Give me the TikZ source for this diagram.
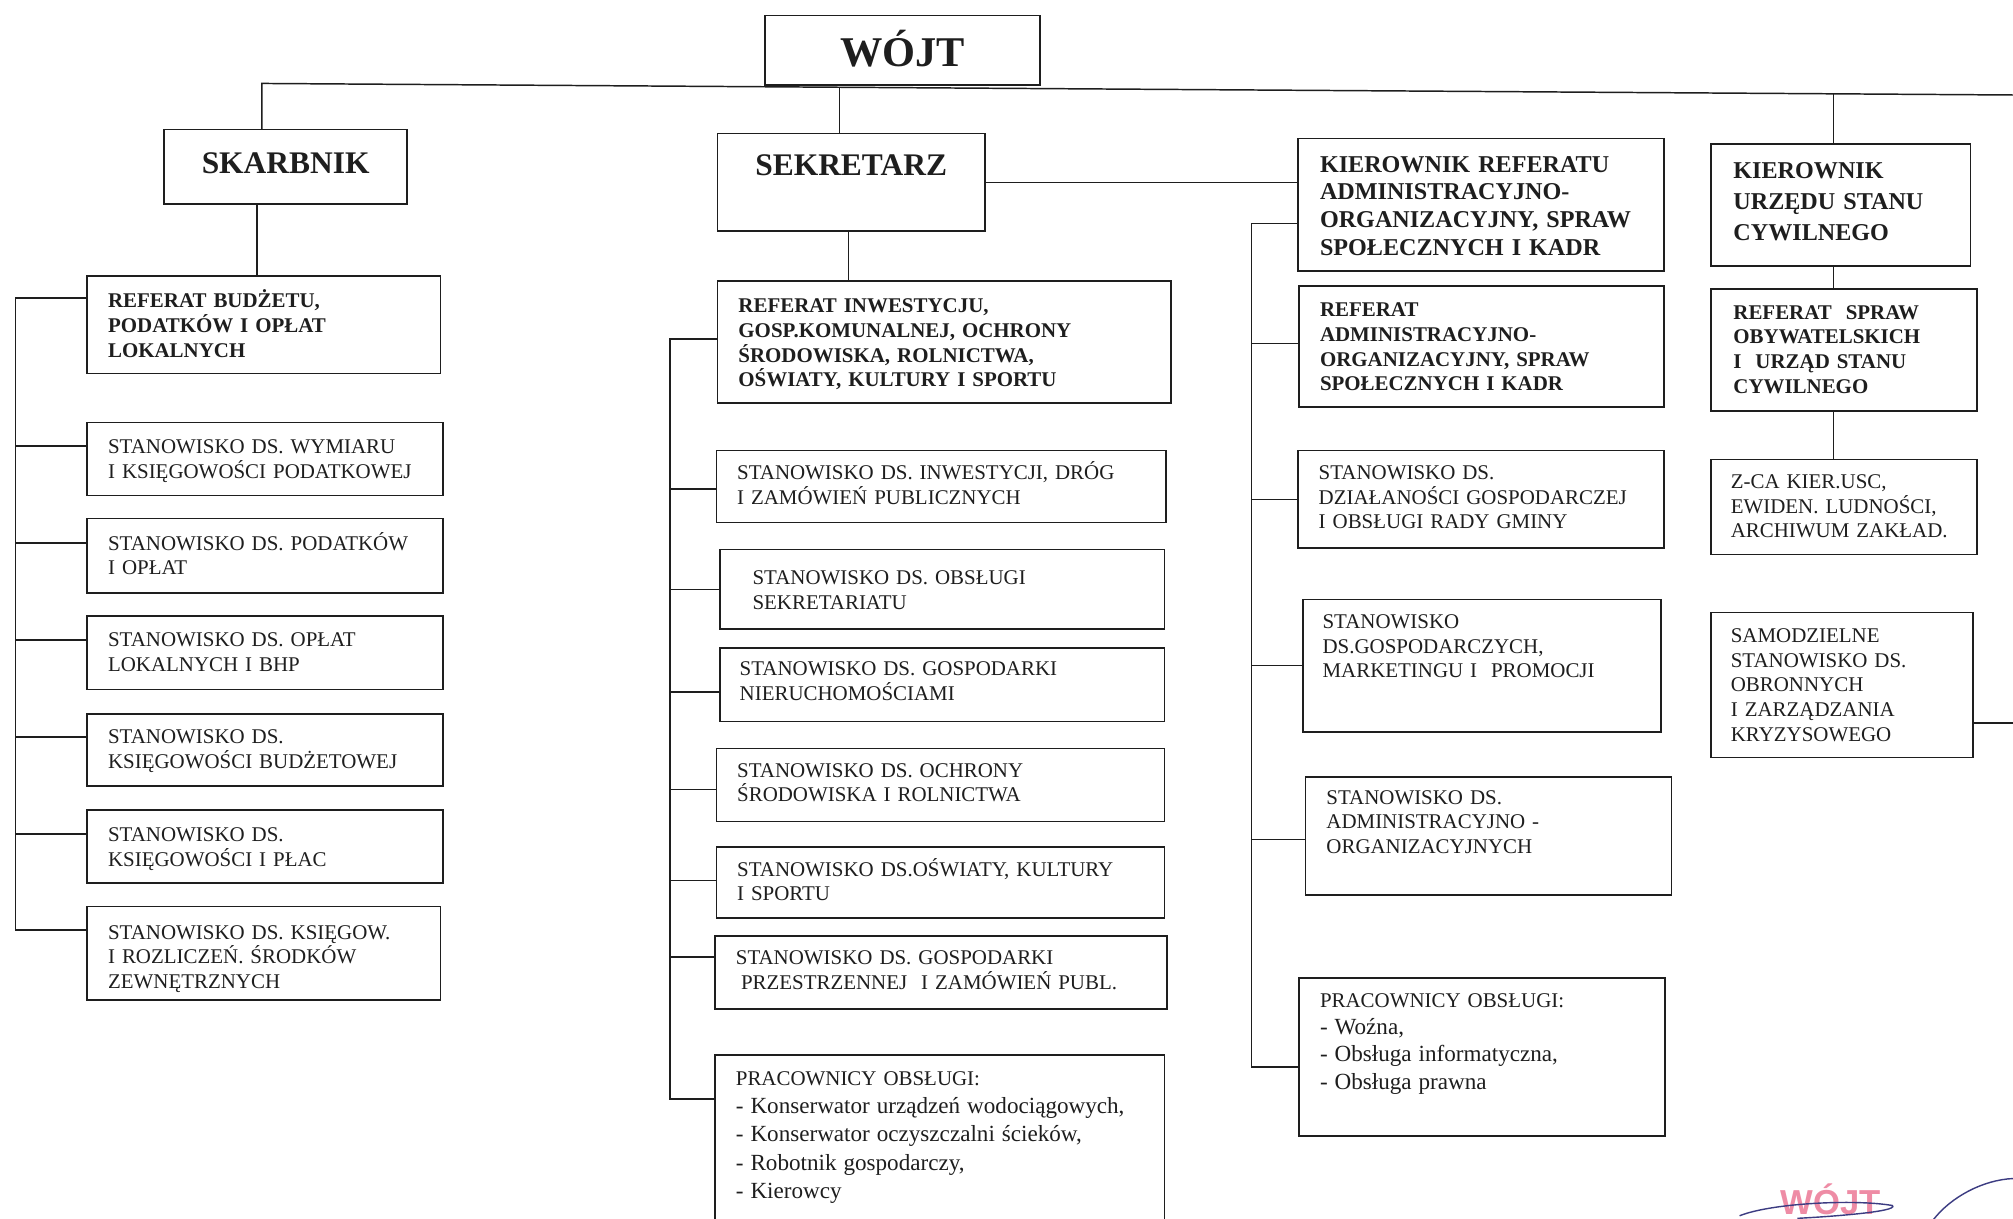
\documentclass[tikz,border=0pt]{standalone}
\usepackage{fontspec}
\setmainfont{Liberation Serif}
\newfontfamily\stampfont{Liberation Sans}
\definecolor{ink}{RGB}{30,30,30}
\definecolor{stampink}{RGB}{236,120,150}
\definecolor{sigblue}{RGB}{60,60,130}
\tikzset{
  boxst/.style={draw=ink, line width=1.3pt, inner sep=0pt, outer sep=0pt},
  conn/.style={draw=ink, line width=1.15pt},
  rt/.style={font=\fontsize{16.3}{19.2}\selectfont, align=left, inner sep=0pt, text=ink},
  bt/.style={font=\bfseries\fontsize{16.3}{19.3}\selectfont, align=left, inner sep=0pt, text=ink},
  kt/.style={font=\bfseries\fontsize{18.8}{21.7}\selectfont, align=left, inner sep=0pt, text=ink},
  kts/.style={font=\bfseries\fontsize{18.8}{24}\selectfont, align=left, inner sep=0pt, text=ink},
  ht/.style={font=\bfseries\fontsize{24.5}{28}\selectfont, inner sep=0pt, text=ink},
  pt22/.style={rt, font=\fontsize{16.3}{22}\selectfont},
  pt21/.style={rt, font=\fontsize{16.3}{21.3}\selectfont},
}
% #1 text style, #2 name, #3 x1, #4 y1, #5 x2, #6 y2, #7 text x, #8 first baseline y, #9 text
\newcommand\obx[9]{%
  \pgfmathsetmacro\obw{#5-#3}\pgfmathsetmacro\obh{#6-#4}\pgfmathsetmacro\otw{#5-#7-2}%
  \node[boxst, anchor=north west, minimum width=\obw pt, minimum height=\obh pt] (#2) at (#3,#4) {};%
  \node[#1, anchor=base west, text width=\otw pt] (#2t) at (#7,#8) {#9};}
\newcommand\lst[1]{{\fontsize{18}{22}\selectfont #1}}
\begin{document}
\begin{tikzpicture}[x=1pt,y=-1pt]
\path[use as bounding box, fill=white] (0,0) rectangle (1568,949);
\clip (0,0) rectangle (1568,949);

% top level
\node[boxst, anchor=north west, minimum width=214pt, minimum height=54pt] (wojt) at (596,12) {};
\node[font=\bfseries\fontsize{33}{36}\selectfont, inner sep=0pt, anchor=base, text=ink] (wojtt) at (703,52) {WÓJT};

\node[boxst, anchor=north west, minimum width=189pt, minimum height=58pt] (skb) at (128,101) {};
\node[ht, anchor=base] (skbt) at (222.5,135) {SKARBNIK};

\node[boxst, anchor=north west, minimum width=208pt, minimum height=76pt] (sek) at (559,104) {};
\node[ht, anchor=base] (sekt) at (663,137) {SEKRETARZ};

\obx{kt}{kref}{1011}{108}{1296}{211}{1028}{134}{KIEROWNIK REFERATU\\ADMINISTRACYJNO-\\ORGANIZACYJNY, SPRAW\\SPOŁECZNYCH I KADR}
\obx{kts}{kusc}{1333}{112}{1535}{207}{1350}{139}{KIEROWNIK\\URZĘDU STANU\\CYWILNEGO}

% second level
\obx{bt}{rbud}{68}{215}{343}{291}{84}{239.5}{REFERAT BUDŻETU,\\PODATKÓW I OPŁAT\\LOKALNYCH}
\obx{bt}{rinw}{559}{219}{912}{314}{575}{243.5}{REFERAT INWESTYCJU,\\GOSP.KOMUNALNEJ, OCHRONY\\ŚRODOWISKA, ROLNICTWA,\\OŚWIATY, KULTURY I SPORTU}
\obx{bt}{kref2}{1012}{223}{1296}{317}{1028}{246.5}{REFERAT\\ADMINISTRACYJNO-\\ORGANIZACYJNY, SPRAW\\SPOŁECZNYCH I KADR}
\obx{bt}{rso}{1333}{225}{1540}{320}{1350}{248.5}{REFERAT\ \ SPRAW\\OBYWATELSKICH\\I\ \ URZĄD STANU\\CYWILNEGO}

% left column
\obx{rt}{s1}{68}{329}{345}{386}{84}{353.5}{STANOWISKO DS. WYMIARU\\I KSIĘGOWOŚCI PODATKOWEJ}
\obx{rt}{s2}{68}{404}{345}{462}{84}{428.5}{STANOWISKO DS. PODATKÓW\\I OPŁAT}
\obx{rt}{s3}{68}{480}{345}{537}{84}{503.5}{STANOWISKO DS. OPŁAT\\LOKALNYCH I BHP}
\obx{rt}{s4}{68}{556}{345}{612}{84}{579.5}{STANOWISKO DS.\\KSIĘGOWOŚCI BUDŻETOWEJ}
\obx{rt}{s5}{68}{631}{345}{688}{84}{655.5}{STANOWISKO DS.\\KSIĘGOWOŚCI I PŁAC}
\obx{rt}{s6}{68}{706}{343}{779}{84}{731.5}{STANOWISKO DS. KSIĘGOW.\\I ROZLICZEŃ. ŚRODKÓW\\ZEWNĘTRZNYCH}

% middle column
\obx{rt}{m1}{558}{351}{908}{407}{574}{373.5}{STANOWISKO DS. INWESTYCJI, DRÓG\\I ZAMÓWIEŃ PUBLICZNYCH}
\obx{rt}{m2}{561}{428}{907}{490}{586}{455.5}{STANOWISKO DS. OBSŁUGI\\SEKRETARIATU}
\obx{rt}{m3}{561}{505}{907}{562}{576}{526.5}{STANOWISKO DS. GOSPODARKI\\NIERUCHOMOŚCIAMI}
\obx{rt}{m4}{558}{583}{907}{640}{574}{605.5}{STANOWISKO DS. OCHRONY\\ŚRODOWISKA I ROLNICTWA}
\obx{rt}{m5}{558}{660}{907}{715}{574}{682.5}{STANOWISKO DS.OŚWIATY, KULTURY\\I SPORTU}
\obx{rt}{m6}{557}{729}{909}{786}{573}{751.5}{STANOWISKO DS. GOSPODARKI\\\hspace*{4pt}PRZESTRZENNEJ\ \ I ZAMÓWIEŃ PUBL.}
\obx{pt22}{m7}{557}{822}{907}{965}{573}{845.5}{PRACOWNICY OBSŁUGI:\\\lst{- Konserwator urządzeń wodociągowych,}\\\lst{- Konserwator oczyszczalni ścieków,}\\\lst{- Robotnik gospodarczy,}\\\lst{- Kierowcy}}

% right column
\obx{rt}{r1}{1011}{351}{1296}{427}{1027}{373.5}{STANOWISKO DS.\\DZIAŁANOŚCI GOSPODARCZEJ\\I OBSŁUGI RADY GMINY}
\obx{rt}{r2}{1015}{467}{1294}{570}{1030}{489.5}{STANOWISKO\\DS.GOSPODARCZYCH,\\MARKETINGU I\ \ PROMOCJI}
\obx{rt}{r3}{1017}{605}{1302}{697}{1033}{626.5}{STANOWISKO DS.\\ADMINISTRACYJNO -\\ORGANIZACYJNYCH}
\obx{pt21}{r4}{1012}{762}{1297}{885}{1028}{784.5}{PRACOWNICY OBSŁUGI:\\\lst{- Woźna,}\\\lst{- Obsługa informatyczna,}\\\lst{- Obsługa prawna}}

% far right column
\obx{rt}{zca}{1333}{358}{1540}{432}{1348}{380.5}{Z-CA KIER.USC,\\EWIDEN. LUDNOŚCI,\\ARCHIWUM ZAKŁAD.}
\obx{rt}{samo}{1333}{477}{1537}{590}{1348}{500.5}{SAMODZIELNE\\STANOWISKO DS.\\OBRONNYCH\\I ZARZĄDZANIA\\KRYZYSOWEGO}

% connector helper coordinates
\coordinate (busL) at (204,65);
\coordinate (busR) at (1568,74);
\coordinate (j2) at (654,68);
\coordinate (j4) at (1428,73);
\coordinate (sx) at (200,0);
\coordinate (kx) at (661,0);
\coordinate (lb) at (12,0);
\coordinate (mb) at (522,0);
\coordinate (rb) at (975,0);
\coordinate (edgeR) at (1568,0);

% top bus
\draw[conn] (skb.north -| busL) -- (busL) -- (busR);
\draw[conn] (j2) -- (j2 |- sek.north);
\draw[conn] (j4) -- (j4 |- kusc.north);
\draw[conn] (j4 |- kusc.south) -- (j4 |- rso.north);
\draw[conn] (j4 |- rso.south) -- (j4 |- zca.north);
\draw[conn] (sx |- skb.south) -- (sx |- rbud.north);
\draw[conn] (kx |- sek.south) -- (kx |- rinw.north);
\draw[conn] (sek.east) -- (sek.east -| kref.west);
\draw[conn] ([yshift=-29.5pt]samo.east) -- ([yshift=-29.5pt]samo.east -| edgeR);

% left bracket
\draw[conn] ([yshift=21pt]rbud.west) -- ([yshift=21pt]rbud.west -| lb) -- ([yshift=18pt]s6.west -| lb) -- ([yshift=18pt]s6.west);
\foreach \n in {s1,s2,s3,s4,s5}{
  \draw[conn] ([yshift=10pt]\n.west) -- ([yshift=10pt]\n.west -| lb);
}

% middle bracket
\draw[conn] ([yshift=2.5pt]rinw.west) -- ([yshift=2.5pt]rinw.west -| mb) -- ([yshift=37.5pt]m7.west -| mb) -- ([yshift=37.5pt]m7.west);
\foreach \n/\d in {m1/-2,m2/0,m3/-5.5,m4/-3.5,m5/1.5,m6/12}{
  \draw[conn] ([yshift=\d pt]\n.west) -- ([yshift=\d pt]\n.west -| mb);
}

% right bracket
\draw[conn] ([yshift=-14.5pt]kref.west) -- ([yshift=-14.5pt]kref.west -| rb) -- ([yshift=-7.5pt]r4.west -| rb) -- ([yshift=-7.5pt]r4.west);
\foreach \n/\d in {kref2/2.5,r1/0,r2/0,r3/-3}{
  \draw[conn] ([yshift=\d pt]\n.west) -- ([yshift=\d pt]\n.west -| rb);
}

% stamp and signature
\node[font=\stampfont\bfseries\fontsize{27}{28}\selectfont, text=stampink, text opacity=0.85, inner sep=0pt, anchor=base] (stamp) at (1426,946) {WÓJT};
\coordinate (sg1) at (1355,947);
\coordinate (sg2) at (1474,939);
\coordinate (sg3) at (1506,950);
\coordinate (sg4) at (1568,918);
\draw[sigblue, line width=1.1pt] (sg1) .. controls (1380,937) and (1445,934) .. (sg2) .. controls (1480,944) and (1420,948) .. (1400,949);
\draw[sigblue, line width=1.1pt] (sg3) .. controls (1520,932) and (1545,919) .. (sg4);
\end{tikzpicture}
\end{document}
